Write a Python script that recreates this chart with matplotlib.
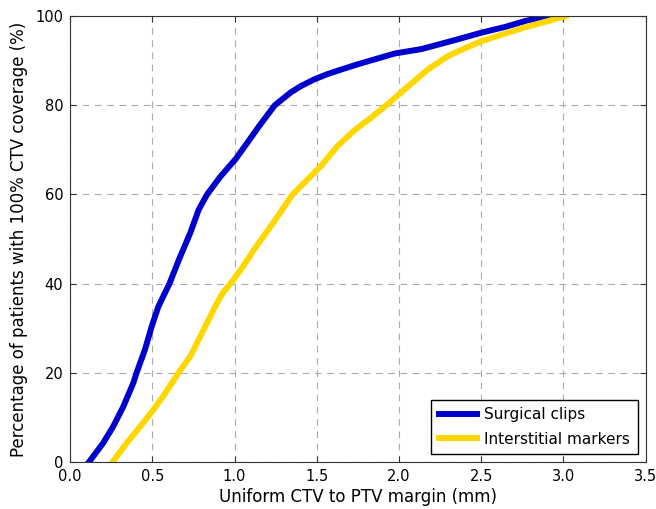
import matplotlib
matplotlib.use("Agg")
import matplotlib.pyplot as plt

# cumulative coverage curves
clips_margin = [0.115, 0.20, 0.261, 0.323, 0.384, 0.404, 0.455, 0.496, 0.537,
                0.604, 0.662, 0.731, 0.782, 0.833, 0.914, 1.006, 1.078, 1.149,
                1.245, 1.343, 1.404, 1.485, 1.567, 1.649, 1.751, 1.975, 2.138,
                2.32, 2.505, 2.65, 2.77, 2.914]
clips_pct = [0, 4.2, 7.9, 12.4, 17.7, 20, 25.2, 30.4, 34.9,
             40, 45.4, 51.4, 56.6, 60, 64, 67.9, 71.6, 75.3,
             80, 82.9, 84.3, 85.8, 87, 88.0, 89.2, 91.6, 92.6,
             94.4, 96.3, 97.6, 98.9, 100]

markers_margin = [0.258, 0.343, 0.425, 0.506, 0.578, 0.659, 0.731, 0.792,
                  0.853, 0.894, 0.93, 0.986, 1.047, 1.118, 1.2, 1.261, 1.353,
                  1.44, 1.526, 1.628, 1.73, 1.83, 1.924, 2.036, 2.179, 2.302,
                  2.403, 2.505, 2.64, 2.77, 2.90, 3.015]
markers_pct = [0, 4.2, 7.9, 11.7, 15.4, 20, 23.7, 28.2,
               32.7, 35.7, 38.0, 40.5, 43.6, 47.6, 51.8, 55.0, 60,
               63.2, 66.4, 70.9, 74.4, 77.2, 80, 83.6, 88.1, 91.1,
               92.8, 94.4, 96.0, 97.5, 98.8, 100]

fig = plt.figure(figsize=(6.56, 5.09), dpi=100)
ax = fig.add_axes([0.107, 0.0925, 0.877, 0.876])

ax.plot(clips_margin, clips_pct, color="#0000cc", linewidth=4.3,
        label="Surgical clips", solid_joinstyle="round")
ax.plot(markers_margin, markers_pct, color="#ffd700", linewidth=4.3,
        label="Interstitial markers", solid_joinstyle="round")

ax.set_xlim(0, 3.5)
ax.set_ylim(0, 100)
ax.set_xticks([0.0, 0.5, 1.0, 1.5, 2.0, 2.5, 3.0, 3.5])
ax.set_xticklabels(["0.0", "0.5", "1.0", "1.5", "2.0", "2.5", "3.0", "3.5"])
ax.set_yticks([0, 20, 40, 60, 80, 100])
ax.grid(True, color="#aaaaaa", linestyle=(0, (6, 5)), linewidth=0.8)
ax.tick_params(direction="in", top=True, right=True, labelsize=10.5,
               length=4, pad=5, color="#333333")
for sp in ax.spines.values():
    sp.set_color("#333333")

ax.set_xlabel("Uniform CTV to PTV margin (mm)", fontsize=12, labelpad=3)
ax.set_ylabel("Percentage of patients with 100% CTV coverage (%)", fontsize=12,
              labelpad=5)

leg = ax.legend(loc="lower right", fontsize=11, fancybox=False, framealpha=1,
                edgecolor="black", handlelength=2.5, handletextpad=0.5,
                borderpad=0.5, labelspacing=0.6, borderaxespad=0.5)
leg.get_frame().set_linewidth(1.0)

fig.savefig("out.png", dpi=100)
